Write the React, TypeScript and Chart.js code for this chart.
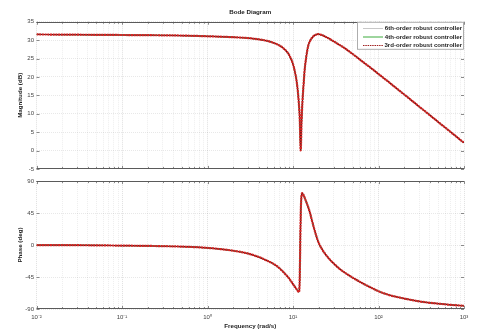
import React, { useEffect, useRef } from 'react';
import { Chart, registerables } from 'chart.js';

Chart.register(...registerables);

// ---- data ----
const magFreq = [0.01, 0.02, 0.05, 0.1, 0.2, 0.5, 1, 2, 3, 4, 5, 6, 7, 8, 9, 10, 10.5, 11, 11.5, 12, 12.3, 12.6, 12.9, 13.3, 13.7, 14.3, 15, 16, 17.2, 18.5, 19.7, 21, 23, 26, 30, 35, 40, 50, 60, 70, 85, 100, 136, 170, 200, 250, 334, 400, 500, 600, 700, 850, 1000];
const magnitudeDb = [31.55, 31.5, 31.45, 31.4, 31.35, 31.25, 31.05, 30.8, 30.55, 30.2, 29.8, 29.2, 28.5, 27.5, 26.0, 23.5, 21.5, 19.0, 15.0, 8.5, 0, 8, 13.3, 18, 22, 25.5, 28.3, 30.0, 31.0, 31.5, 31.65, 31.5, 31.15, 30.5, 29.65, 28.7, 27.85, 26.2, 24.8, 23.6, 22.1, 20.8, 18.35, 16.54, 15.22, 13.4, 11.04, 9.57, 7.75, 6.26, 5.0, 3.42, 2.1];

const phaseFreq = [0.01, 0.02, 0.05, 0.1, 0.2, 0.5, 1, 2, 3, 4, 5, 6, 7, 8, 9, 10, 11, 11.7, 11.9, 12.05, 12.2, 12.35, 12.55, 12.8, 13.2, 14, 15, 15.7, 16.5, 17.5, 18.8, 20, 22, 24.7, 27, 30, 35, 40, 50, 60, 70, 80, 100, 130, 170, 200, 300, 400, 500, 700, 1000];
const phaseDeg = [0, -0.1, -0.4, -0.8, -1.2, -2.2, -4, -8, -12, -17, -22, -27, -33, -40, -47, -55, -62, -66, -60, -30, 15, 50, 68, 73, 71, 63.5, 54, 46.5, 36.5, 25, 12, 3, -6.5, -15, -20.5, -26, -33.5, -38.5, -46, -51.5, -55.8, -59.3, -65, -70, -73.5, -75.3, -79.3, -81.3, -82.5, -84.2, -85.5];

const seriesNames = ['6th-order robust controller', '4th-order robust controller', '3rd-order robust controller'];
const seriesColors = ['#3a1010', '#3cab3c', '#d62626'];

const decades = [0.01, 0.1, 1, 10, 100, 1000];
const decadeLabels = ['10\u207B\u00B2', '10\u207B\u00B9', '10\u2070', '10\u00B9', '10\u00B2', '10\u00B3'];
const minorMultipliers = [2, 3, 4, 5, 6, 7, 8, 9];
const magTicks = [-5, 0, 5, 10, 15, 20, 25, 30, 35];
const phaseTicks = [-90, -45, 0, 45, 90];

const chartTitle = 'Bode Diagram';
const magLabel = 'Magnitude (dB)';
const phaseLabel = 'Phase (deg)';
const freqLabel = 'Frequency (rad/s)';

const FONT = "'Liberation Sans', Arial, sans-serif";

const xTickValues: number[] = [];
decades.forEach((d, i) => {
  xTickValues.push(d);
  if (i < decades.length - 1) minorMultipliers.forEach((m) => xTickValues.push(d * m));
});

const isDecade = (v: number) => Math.abs(Math.log10(v) - Math.round(Math.log10(v))) < 1e-9;
const decadeLabel = (v: number) => {
  const idx = decades.findIndex((d) => Math.abs(d - v) / d < 1e-9);
  return idx >= 0 ? decadeLabels[idx] : '';
};

function makeDatasets(xs: number[], ys: number[]) {
  const pts = xs.map((x, i) => ({ x, y: ys[i] }));
  return [
    {
      label: seriesNames[2], data: pts, borderColor: seriesColors[2], borderWidth: 2.2,
      borderDash: [2, 0.7], pointRadius: 0, order: 0, cubicInterpolationMode: 'monotone' as const,
    },
    {
      label: seriesNames[1], data: pts, borderColor: seriesColors[1], borderWidth: 1,
      pointRadius: 0, order: 2, cubicInterpolationMode: 'monotone' as const,
    },
    {
      label: seriesNames[0], data: pts, borderColor: seriesColors[0], borderWidth: 1.2,
      pointRadius: 0, order: 1, cubicInterpolationMode: 'monotone' as const,
    },
  ];
}

const framePlugin = {
  id: 'bodeFrame',
  beforeDatasetsDraw(chart: any) {
    const { ctx, chartArea: a, scales } = chart;
    const xs = scales.x;
    const ys = scales.y;
    ctx.save();
    ctx.lineWidth = 1;
    ctx.strokeStyle = '#8a8a8a';
    ctx.beginPath();
    xs.ticks.forEach((t: any) => {
      const px = Math.round(xs.getPixelForValue(t.value)) + 0.5;
      const len = isDecade(t.value) ? 3 : 2;
      ctx.moveTo(px, a.top); ctx.lineTo(px, a.top + len);
      ctx.moveTo(px, a.bottom); ctx.lineTo(px, a.bottom - len);
    });
    ys.ticks.forEach((t: any) => {
      const py = Math.round(ys.getPixelForValue(t.value)) + 0.5;
      ctx.moveTo(a.left, py); ctx.lineTo(a.left + 3, py);
      ctx.moveTo(a.right, py); ctx.lineTo(a.right - 3, py);
    });
    ctx.stroke();
    ctx.strokeStyle = '#5a5a5a';
    ctx.beginPath();
    const t = Math.round(a.top) + 0.5;
    const b = Math.round(a.bottom) - 0.5;
    ctx.moveTo(a.left, t); ctx.lineTo(a.right, t);
    ctx.moveTo(a.left, b); ctx.lineTo(a.right, b);
    ctx.stroke();
    ctx.restore();
  },
};

const topDecorPlugin = {
  id: 'bodeTopDecor',
  afterDraw(chart: any) {
    const { ctx, chartArea: a } = chart;
    ctx.save();
    ctx.font = `bold 6.2px ${FONT}`;
    ctx.fillStyle = '#222';
    ctx.textAlign = 'center';
    ctx.textBaseline = 'middle';
    ctx.fillText(chartTitle, (a.left + a.right) / 2, 12);
    const x0 = 357, x1 = a.right, y0 = a.top, y1 = a.top + 28;
    ctx.fillStyle = '#ffffff';
    ctx.fillRect(x0, y0, x1 - x0, y1 - y0);
    ctx.strokeStyle = '#9a9a9a';
    ctx.lineWidth = 0.8;
    ctx.strokeRect(x0 + 0.5, y0 + 0.5, x1 - x0 - 1, y1 - y0 - 1);
    const rows = [28, 36.5, 45];
    const styles = [
      { color: '#c8c8c8', dash: [] as number[], w: 1 },
      { color: seriesColors[1], dash: [] as number[], w: 1 },
      { color: '#a02020', dash: [1.5, 0.8], w: 1 },
    ];
    ctx.font = `bold 6.1px ${FONT}`;
    ctx.textAlign = 'right';
    rows.forEach((y, i) => {
      ctx.beginPath();
      ctx.strokeStyle = styles[i].color;
      ctx.lineWidth = styles[i].w;
      ctx.setLineDash(styles[i].dash);
      ctx.moveTo(363, y + 0.5); ctx.lineTo(383, y + 0.5);
      ctx.stroke();
      ctx.setLineDash([]);
      ctx.fillStyle = '#222';
      ctx.fillText(seriesNames[i], 462, y + 0.5);
    });
    ctx.restore();
  },
};

function xScale(showLabels: boolean, fixedHeight: number) {
  return {
    type: 'logarithmic' as const,
    min: 0.01,
    max: 1000,
    afterBuildTicks: (s: any) => { s.ticks = xTickValues.map((v) => ({ value: v })); },
    afterFit: (s: any) => { s.height = fixedHeight; },
    ticks: {
      display: showLabels,
      autoSkip: false,
      maxRotation: 0,
      minRotation: 0,
      padding: 5,
      color: '#444',
      font: { family: FONT, size: 6 },
      callback: (v: any) => decadeLabel(Number(v)),
    },
    grid: {
      drawTicks: false,
      lineWidth: 1,
      color: (c: any) => (c.tick && isDecade(c.tick.value) ? 'rgba(0,0,0,0.13)' : 'rgba(0,0,0,0.07)'),
    },
    border: { display: false, dash: [1, 1] },
    title: showLabels
      ? { display: true, text: freqLabel, color: '#222', font: { family: FONT, size: 6.2, weight: 'bold' as const }, padding: { top: 0, bottom: 6.3 } }
      : { display: false },
  };
}

function yScale(min: number, max: number, ticks: number[], label: string) {
  return {
    type: 'linear' as const,
    min, max,
    afterBuildTicks: (s: any) => { s.ticks = ticks.map((v) => ({ value: v })); },
    afterFit: (s: any) => { s.width = 36.5; },
    ticks: {
      padding: 2.5,
      color: '#444',
      font: { family: FONT, size: 6 },
      callback: (v: any) => String(v),
    },
    grid: { drawTicks: false, lineWidth: 1, color: 'rgba(0,0,0,0.09)' },
    border: { display: false, dash: [1, 1] },
    title: { display: true, text: label, color: '#222', font: { family: FONT, size: 6.2, weight: 'bold' as const }, padding: { top: 16.3, bottom: 0 } },
  };
}

export default function App() {
  const topRef = useRef<HTMLCanvasElement>(null);
  const botRef = useRef<HTMLCanvasElement>(null);

  useEffect(() => {
    const top = new Chart(topRef.current!, {
      type: 'line',
      data: { datasets: makeDatasets(magFreq, magnitudeDb) as any },
      options: {
        responsive: false,
        animation: false,
        layout: { padding: { top: 21.75, right: 16, left: 0, bottom: 0 } },
        plugins: { legend: { display: false }, tooltip: { enabled: false }, title: { display: false } },
        scales: { x: xScale(false, 175 - 171.75) as any, y: yScale(-5, 35, magTicks, magLabel) as any },
      },
      plugins: [framePlugin, topDecorPlugin],
    });
    const bot = new Chart(botRef.current!, {
      type: 'line',
      data: { datasets: makeDatasets(phaseFreq, phaseDeg) as any },
      options: {
        responsive: false,
        animation: false,
        layout: { padding: { top: 2.7, right: 16, left: 0, bottom: 0 } },
        plugins: { legend: { display: false }, tooltip: { enabled: false }, title: { display: false } },
        scales: { x: xScale(true, 161 - 134) as any, y: yScale(-90, 90, phaseTicks, phaseLabel) as any },
      },
      plugins: [framePlugin],
    });
    return () => { top.destroy(); bot.destroy(); };
  }, []);

  return (
    <div style={{ position: 'absolute', left: 0, top: 0, width: 480, height: 336, background: '#fff' }}>
      <canvas ref={topRef} width={480} height={175} style={{ position: 'absolute', left: 0, top: 0, display: 'block' }} />
      <canvas ref={botRef} width={480} height={161} style={{ position: 'absolute', left: 0, top: 175, display: 'block' }} />
    </div>
  );
}
